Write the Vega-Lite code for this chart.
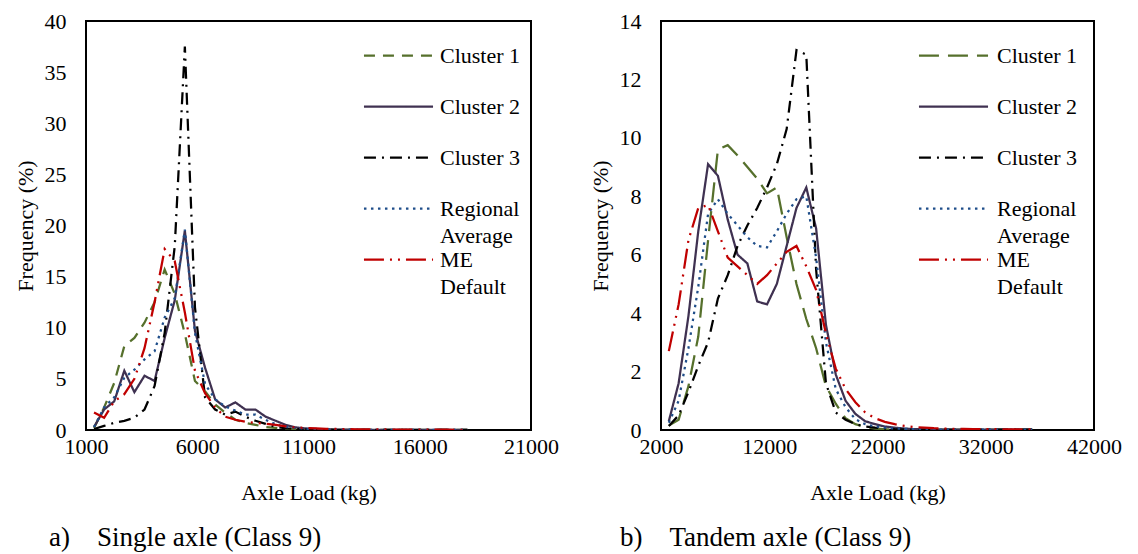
{
  "$schema": "https://vega.github.io/schema/vega-lite/v6.json",
  "background": "white",
  "padding": {"left": 13, "top": 9, "right": 5, "bottom": 0},
  "config": {
    "font": "Liberation Serif",
    "view": {"stroke": "black", "strokeWidth": 2},
    "style": {"guide-label": {"font": "Liberation Serif"}, "guide-title": {"font": "Liberation Serif"}},
    "axis": {"grid": false, "ticks": false, "domain": false, "labelFlush": false, "labelOverlap": false, "labelFont": "Liberation Serif", "labelFontSize": 22, "labelColor": "black", "titleFont": "Liberation Serif", "titleFontSize": 22, "titleFontWeight": "normal", "titleColor": "black"},
    "legend": {"labelFont": "Liberation Serif"},
    "title": {"font": "Liberation Serif", "fontSize": 27, "fontWeight": "normal", "color": "black"},
    "concat": {"spacing": 28}
  },
  "datasets": {
    "single": [
      {"x": 1361, "Cluster 1": 0.2, "Cluster 2": 0.3, "Cluster 3": 0.1, "Regional Average": 0.3, "ME Default": 1.7},
      {"x": 1814, "Cluster 1": 2.2, "Cluster 2": 2.0, "Cluster 3": 0.4, "Regional Average": 2.2, "ME Default": 1.2},
      {"x": 2268, "Cluster 1": 4.6, "Cluster 2": 2.8, "Cluster 3": 0.7, "Regional Average": 3.2, "ME Default": 2.8},
      {"x": 2722, "Cluster 1": 8.2, "Cluster 2": 5.8, "Cluster 3": 0.9, "Regional Average": 5.1, "ME Default": 3.5},
      {"x": 3175, "Cluster 1": 9.0, "Cluster 2": 3.7, "Cluster 3": 1.2, "Regional Average": 5.9, "ME Default": 5.0},
      {"x": 3629, "Cluster 1": 10.5, "Cluster 2": 5.3, "Cluster 3": 2.0, "Regional Average": 6.9, "ME Default": 8.0},
      {"x": 4082, "Cluster 1": 12.5, "Cluster 2": 4.8, "Cluster 3": 4.3, "Regional Average": 7.7, "ME Default": 12.5},
      {"x": 4536, "Cluster 1": 15.7, "Cluster 2": 9.0, "Cluster 3": 9.5, "Regional Average": 11.0, "ME Default": 17.7},
      {"x": 4990, "Cluster 1": 13.3, "Cluster 2": 12.7, "Cluster 3": 18.0, "Regional Average": 12.9, "ME Default": 16.5},
      {"x": 5443, "Cluster 1": 9.4, "Cluster 2": 19.5, "Cluster 3": 37.5, "Regional Average": 19.6, "ME Default": 11.5},
      {"x": 5897, "Cluster 1": 4.8, "Cluster 2": 9.7, "Cluster 3": 12.0, "Regional Average": 9.5, "ME Default": 5.8},
      {"x": 6350, "Cluster 1": 3.8, "Cluster 2": 6.1, "Cluster 3": 3.2, "Regional Average": 4.5, "ME Default": 3.6},
      {"x": 6804, "Cluster 1": 2.5, "Cluster 2": 3.0, "Cluster 3": 2.0, "Regional Average": 3.0, "ME Default": 2.2},
      {"x": 7257, "Cluster 1": 1.7, "Cluster 2": 2.2, "Cluster 3": 1.5, "Regional Average": 2.3, "ME Default": 1.3},
      {"x": 7711, "Cluster 1": 1.0, "Cluster 2": 2.7, "Cluster 3": 1.8, "Regional Average": 1.9, "ME Default": 1.0},
      {"x": 8165, "Cluster 1": 0.7, "Cluster 2": 2.0, "Cluster 3": 1.3, "Regional Average": 1.5, "ME Default": 0.8},
      {"x": 8618, "Cluster 1": 0.5, "Cluster 2": 2.0, "Cluster 3": 0.9, "Regional Average": 1.5, "ME Default": 0.7},
      {"x": 9072, "Cluster 1": 0.3, "Cluster 2": 1.3, "Cluster 3": 0.6, "Regional Average": 1.0, "ME Default": 0.6},
      {"x": 9525, "Cluster 1": 0.2, "Cluster 2": 0.9, "Cluster 3": 0.3, "Regional Average": 0.55, "ME Default": 0.5},
      {"x": 9979, "Cluster 1": 0.1, "Cluster 2": 0.5, "Cluster 3": 0.15, "Regional Average": 0.3, "ME Default": 0.35},
      {"x": 10433, "Cluster 1": 0.08, "Cluster 2": 0.25, "Cluster 3": 0.1, "Regional Average": 0.2, "ME Default": 0.25},
      {"x": 10886, "Cluster 1": 0.05, "Cluster 2": 0.15, "Cluster 3": 0.06, "Regional Average": 0.12, "ME Default": 0.2},
      {"x": 11340, "Cluster 1": 0.04, "Cluster 2": 0.1, "Cluster 3": 0.04, "Regional Average": 0.08, "ME Default": 0.15},
      {"x": 11793, "Cluster 1": 0.03, "Cluster 2": 0.06, "Cluster 3": 0.03, "Regional Average": 0.06, "ME Default": 0.12},
      {"x": 12247, "Cluster 1": 0.02, "Cluster 2": 0.04, "Cluster 3": 0.02, "Regional Average": 0.04, "ME Default": 0.1},
      {"x": 12701, "Cluster 1": 0.02, "Cluster 2": 0.03, "Cluster 3": 0.02, "Regional Average": 0.03, "ME Default": 0.08},
      {"x": 13154, "Cluster 1": 0.01, "Cluster 2": 0.02, "Cluster 3": 0.01, "Regional Average": 0.03, "ME Default": 0.07},
      {"x": 13608, "Cluster 1": 0.01, "Cluster 2": 0.02, "Cluster 3": 0.01, "Regional Average": 0.02, "ME Default": 0.06},
      {"x": 14061, "Cluster 1": 0.01, "Cluster 2": 0.01, "Cluster 3": 0.01, "Regional Average": 0.02, "ME Default": 0.05},
      {"x": 14515, "Cluster 1": 0.01, "Cluster 2": 0.01, "Cluster 3": 0.01, "Regional Average": 0.02, "ME Default": 0.05},
      {"x": 14969, "Cluster 1": 0.01, "Cluster 2": 0.01, "Cluster 3": 0.01, "Regional Average": 0.01, "ME Default": 0.04},
      {"x": 15422, "Cluster 1": 0.01, "Cluster 2": 0.01, "Cluster 3": 0.01, "Regional Average": 0.01, "ME Default": 0.04},
      {"x": 15876, "Cluster 1": 0.01, "Cluster 2": 0.01, "Cluster 3": 0.01, "Regional Average": 0.01, "ME Default": 0.03},
      {"x": 16329, "Cluster 1": 0.01, "Cluster 2": 0.01, "Cluster 3": 0.01, "Regional Average": 0.01, "ME Default": 0.03},
      {"x": 16783, "Cluster 1": 0.01, "Cluster 2": 0.01, "Cluster 3": 0.01, "Regional Average": 0.01, "ME Default": 0.03},
      {"x": 17237, "Cluster 1": 0.01, "Cluster 2": 0.01, "Cluster 3": 0.01, "Regional Average": 0.01, "ME Default": 0.03},
      {"x": 17690, "Cluster 1": 0.01, "Cluster 2": 0.01, "Cluster 3": 0.01, "Regional Average": 0.01, "ME Default": 0.02},
      {"x": 18144, "Cluster 1": 0.01, "Cluster 2": 0.01, "Cluster 3": 0.01, "Regional Average": 0.01, "ME Default": 0.02}
    ],
    "tandem": [
      {"x": 2722, "Cluster 1": 0.15, "Cluster 2": 0.3, "Cluster 3": 0.14, "Regional Average": 0.25, "ME Default": 2.7},
      {"x": 3629, "Cluster 1": 0.35, "Cluster 2": 1.6, "Cluster 3": 0.5, "Regional Average": 1.0, "ME Default": 4.3},
      {"x": 4536, "Cluster 1": 1.5, "Cluster 2": 3.9, "Cluster 3": 1.3, "Regional Average": 2.8, "ME Default": 6.5},
      {"x": 5443, "Cluster 1": 3.2, "Cluster 2": 6.8, "Cluster 3": 2.2, "Regional Average": 4.9, "ME Default": 7.6},
      {"x": 6350, "Cluster 1": 6.5, "Cluster 2": 9.1, "Cluster 3": 3.0, "Regional Average": 7.4, "ME Default": 7.7},
      {"x": 7257, "Cluster 1": 9.6, "Cluster 2": 8.7, "Cluster 3": 4.5, "Regional Average": 7.9, "ME Default": 6.8},
      {"x": 8165, "Cluster 1": 9.75, "Cluster 2": 7.2, "Cluster 3": 5.3, "Regional Average": 7.4, "ME Default": 5.9},
      {"x": 9072, "Cluster 1": 9.4, "Cluster 2": 6.0, "Cluster 3": 6.3, "Regional Average": 7.0, "ME Default": 5.6},
      {"x": 9979, "Cluster 1": 9.0, "Cluster 2": 5.7, "Cluster 3": 7.0, "Regional Average": 6.6, "ME Default": 5.3},
      {"x": 10886, "Cluster 1": 8.6, "Cluster 2": 4.4, "Cluster 3": 7.6, "Regional Average": 6.3, "ME Default": 5.0},
      {"x": 11793, "Cluster 1": 8.1, "Cluster 2": 4.3, "Cluster 3": 8.3, "Regional Average": 6.25, "ME Default": 5.3},
      {"x": 12701, "Cluster 1": 8.3, "Cluster 2": 5.0, "Cluster 3": 9.1, "Regional Average": 6.8, "ME Default": 5.7},
      {"x": 13608, "Cluster 1": 6.6, "Cluster 2": 6.3, "Cluster 3": 10.3, "Regional Average": 7.4, "ME Default": 6.1},
      {"x": 14515, "Cluster 1": 5.0, "Cluster 2": 7.6, "Cluster 3": 13.0, "Regional Average": 7.9, "ME Default": 6.3},
      {"x": 15422, "Cluster 1": 3.8, "Cluster 2": 8.3, "Cluster 3": 12.85, "Regional Average": 8.0, "ME Default": 5.6},
      {"x": 16329, "Cluster 1": 2.8, "Cluster 2": 6.9, "Cluster 3": 5.5, "Regional Average": 5.9, "ME Default": 4.8},
      {"x": 17237, "Cluster 1": 1.5, "Cluster 2": 3.6, "Cluster 3": 1.6, "Regional Average": 3.0, "ME Default": 3.3},
      {"x": 18144, "Cluster 1": 0.9, "Cluster 2": 1.9, "Cluster 3": 0.6, "Regional Average": 1.4, "ME Default": 2.1},
      {"x": 19051, "Cluster 1": 0.4, "Cluster 2": 1.0, "Cluster 3": 0.35, "Regional Average": 0.78, "ME Default": 1.4},
      {"x": 19958, "Cluster 1": 0.2, "Cluster 2": 0.55, "Cluster 3": 0.2, "Regional Average": 0.37, "ME Default": 0.95},
      {"x": 20865, "Cluster 1": 0.1, "Cluster 2": 0.3, "Cluster 3": 0.12, "Regional Average": 0.2, "ME Default": 0.6},
      {"x": 21772, "Cluster 1": 0.05, "Cluster 2": 0.2, "Cluster 3": 0.08, "Regional Average": 0.12, "ME Default": 0.4},
      {"x": 22680, "Cluster 1": 0.03, "Cluster 2": 0.12, "Cluster 3": 0.05, "Regional Average": 0.08, "ME Default": 0.28},
      {"x": 23587, "Cluster 1": 0.02, "Cluster 2": 0.08, "Cluster 3": 0.03, "Regional Average": 0.05, "ME Default": 0.2},
      {"x": 24494, "Cluster 1": 0.01, "Cluster 2": 0.05, "Cluster 3": 0.02, "Regional Average": 0.04, "ME Default": 0.14},
      {"x": 25401, "Cluster 1": 0.01, "Cluster 2": 0.03, "Cluster 3": 0.01, "Regional Average": 0.03, "ME Default": 0.1},
      {"x": 26308, "Cluster 1": 0.01, "Cluster 2": 0.02, "Cluster 3": 0.01, "Regional Average": 0.02, "ME Default": 0.08},
      {"x": 27216, "Cluster 1": 0.01, "Cluster 2": 0.01, "Cluster 3": 0.01, "Regional Average": 0.02, "ME Default": 0.06},
      {"x": 28123, "Cluster 1": 0.01, "Cluster 2": 0.01, "Cluster 3": 0.01, "Regional Average": 0.01, "ME Default": 0.05},
      {"x": 29030, "Cluster 1": 0.01, "Cluster 2": 0.01, "Cluster 3": 0.01, "Regional Average": 0.01, "ME Default": 0.04},
      {"x": 29937, "Cluster 1": 0.01, "Cluster 2": 0.01, "Cluster 3": 0.01, "Regional Average": 0.01, "ME Default": 0.04},
      {"x": 30844, "Cluster 1": 0.01, "Cluster 2": 0.01, "Cluster 3": 0.01, "Regional Average": 0.01, "ME Default": 0.03},
      {"x": 31751, "Cluster 1": 0.01, "Cluster 2": 0.01, "Cluster 3": 0.01, "Regional Average": 0.01, "ME Default": 0.03},
      {"x": 32659, "Cluster 1": 0.01, "Cluster 2": 0.01, "Cluster 3": 0.01, "Regional Average": 0.01, "ME Default": 0.03},
      {"x": 33566, "Cluster 1": 0.01, "Cluster 2": 0.01, "Cluster 3": 0.01, "Regional Average": 0.01, "ME Default": 0.02},
      {"x": 34473, "Cluster 1": 0.01, "Cluster 2": 0.01, "Cluster 3": 0.01, "Regional Average": 0.01, "ME Default": 0.02},
      {"x": 35380, "Cluster 1": 0.01, "Cluster 2": 0.01, "Cluster 3": 0.01, "Regional Average": 0.01, "ME Default": 0.02},
      {"x": 36287, "Cluster 1": 0.01, "Cluster 2": 0.01, "Cluster 3": 0.01, "Regional Average": 0.01, "ME Default": 0.02}
    ]
  },
  "hconcat": [
    {
      "width": 445,
      "height": 409,
      "data": {"name": "single"},
      "transform": [{"fold": ["Cluster 1", "Cluster 2", "Cluster 3", "Regional Average", "ME Default"], "as": ["series", "freq"]}],
      "title": {"text": "a)\u00a0\u00a0\u00a0\u00a0Single axle (Class 9)", "orient": "bottom", "anchor": "start", "frame": "group", "dx": -37, "offset": 22},
      "mark": {"type": "line", "strokeWidth": 2.25, "clip": true},
      "encoding": {
        "x": {"field": "x", "type": "quantitative", "scale": {"domain": [1000, 21000], "nice": false, "zero": false}, "axis": {"values": [1000, 6000, 11000, 16000, 21000], "format": "d", "title": "Axle Load (kg)", "labelPadding": 6, "titlePadding": 25, "labelFont": "Liberation Serif", "titleFont": "Liberation Serif"}},
        "y": {"field": "freq", "type": "quantitative", "scale": {"domain": [0, 40], "nice": false}, "axis": {"values": [0, 5, 10, 15, 20, 25, 30, 35, 40], "title": "Frequency (%)", "labelPadding": 20, "titlePadding": 7, "labelFont": "Liberation Serif", "titleFont": "Liberation Serif"}},
        "color": {"field": "series", "type": "nominal",
          "scale": {"domain": ["Cluster 1", "Cluster 2", "Cluster 3", "Regional Average", "ME Default"], "range": ["#56702C", "#3F3151", "#000000", "#1F4E8A", "#C00000"]},
          "legend": {"title": null, "orient": "none", "legendX": 300, "legendY": 22, "symbolType": "M-3.14,0H3.14M0,3.05", "symbolSize": 484, "symbolStrokeWidth": 2.25, "labelOffset": 29, "rowPadding": 0, "padding": 0, "labelFontSize": 22, "labelFont": "Liberation Serif", "labelColor": "black", "labelBaseline": "middle", "labelLimit": 0, "labelExpr": "datum.label == 'Regional Average' ? ['Regional', 'Average'] : datum.label == 'ME Default' ? ['ME', 'Default'] : datum.label", "encode": {"labels": {"update": {"lineHeight": {"value": 27}}}}}},
        "strokeDash": {"field": "series", "type": "nominal",
          "scale": {"domain": ["Cluster 1", "Cluster 2", "Cluster 3", "Regional Average", "ME Default"], "range": [[11, 8], [1, 0], [12, 6, 2, 6], [2.5, 4.5], [20, 6, 2, 6, 2, 6]]},
          "legend": {"title": null, "orient": "none", "legendX": 300, "legendY": 22, "symbolType": "M-3.14,0H3.14M0,3.05", "symbolSize": 484, "symbolStrokeWidth": 2.25, "labelOffset": 29, "rowPadding": 0, "padding": 0, "labelFontSize": 22, "labelFont": "Liberation Serif", "labelColor": "black", "labelBaseline": "middle", "labelLimit": 0, "labelExpr": "datum.label == 'Regional Average' ? ['Regional', 'Average'] : datum.label == 'ME Default' ? ['ME', 'Default'] : datum.label", "encode": {"labels": {"update": {"lineHeight": {"value": 27}}}}}}
      }
    },
    {
      "width": 433,
      "height": 409,
      "data": {"name": "tandem"},
      "transform": [{"fold": ["Cluster 1", "Cluster 2", "Cluster 3", "Regional Average", "ME Default"], "as": ["series", "freq"]}],
      "title": {"text": "b)\u00a0\u00a0\u00a0\u00a0Tandem axle (Class 9)", "orient": "bottom", "anchor": "start", "frame": "group", "dx": -41, "offset": 22},
      "mark": {"type": "line", "strokeWidth": 2.25, "clip": true},
      "encoding": {
        "x": {"field": "x", "type": "quantitative", "scale": {"domain": [2000, 42000], "nice": false, "zero": false}, "axis": {"values": [2000, 12000, 22000, 32000, 42000], "format": "d", "title": "Axle Load (kg)", "labelPadding": 6, "titlePadding": 25, "labelFont": "Liberation Serif", "titleFont": "Liberation Serif"}},
        "y": {"field": "freq", "type": "quantitative", "scale": {"domain": [0, 14], "nice": false}, "axis": {"values": [0, 2, 4, 6, 8, 10, 12, 14], "title": "Frequency (%)", "labelPadding": 20, "titlePadding": 7, "labelFont": "Liberation Serif", "titleFont": "Liberation Serif"}},
        "color": {"field": "series", "type": "nominal",
          "scale": {"domain": ["Cluster 1", "Cluster 2", "Cluster 3", "Regional Average", "ME Default"], "range": ["#56702C", "#3F3151", "#000000", "#1F4E8A", "#C00000"]},
          "legend": {"title": null, "orient": "none", "legendX": 280, "legendY": 22, "symbolType": "M-3.14,0H3.14M0,3.05", "symbolSize": 484, "symbolStrokeWidth": 2.25, "labelOffset": 31, "rowPadding": 0, "padding": 0, "labelFontSize": 22, "labelFont": "Liberation Serif", "labelColor": "black", "labelBaseline": "middle", "labelLimit": 0, "labelExpr": "datum.label == 'Regional Average' ? ['Regional', 'Average'] : datum.label == 'ME Default' ? ['ME', 'Default'] : datum.label", "encode": {"labels": {"update": {"lineHeight": {"value": 27}}}}}},
        "strokeDash": {"field": "series", "type": "nominal",
          "scale": {"domain": ["Cluster 1", "Cluster 2", "Cluster 3", "Regional Average", "ME Default"], "range": [[20, 9], [1, 0], [12, 6, 2, 6], [2.5, 4.5], [20, 6, 2, 6, 2, 6]]},
          "legend": {"title": null, "orient": "none", "legendX": 280, "legendY": 22, "symbolType": "M-3.14,0H3.14M0,3.05", "symbolSize": 484, "symbolStrokeWidth": 2.25, "labelOffset": 31, "rowPadding": 0, "padding": 0, "labelFontSize": 22, "labelFont": "Liberation Serif", "labelColor": "black", "labelBaseline": "middle", "labelLimit": 0, "labelExpr": "datum.label == 'Regional Average' ? ['Regional', 'Average'] : datum.label == 'ME Default' ? ['ME', 'Default'] : datum.label", "encode": {"labels": {"update": {"lineHeight": {"value": 27}}}}}}
      }
    }
  ],
  "resolve": {"scale": {"x": "independent", "y": "independent", "color": "independent", "strokeDash": "independent"}, "legend": {"color": "independent", "strokeDash": "independent"}}
}
